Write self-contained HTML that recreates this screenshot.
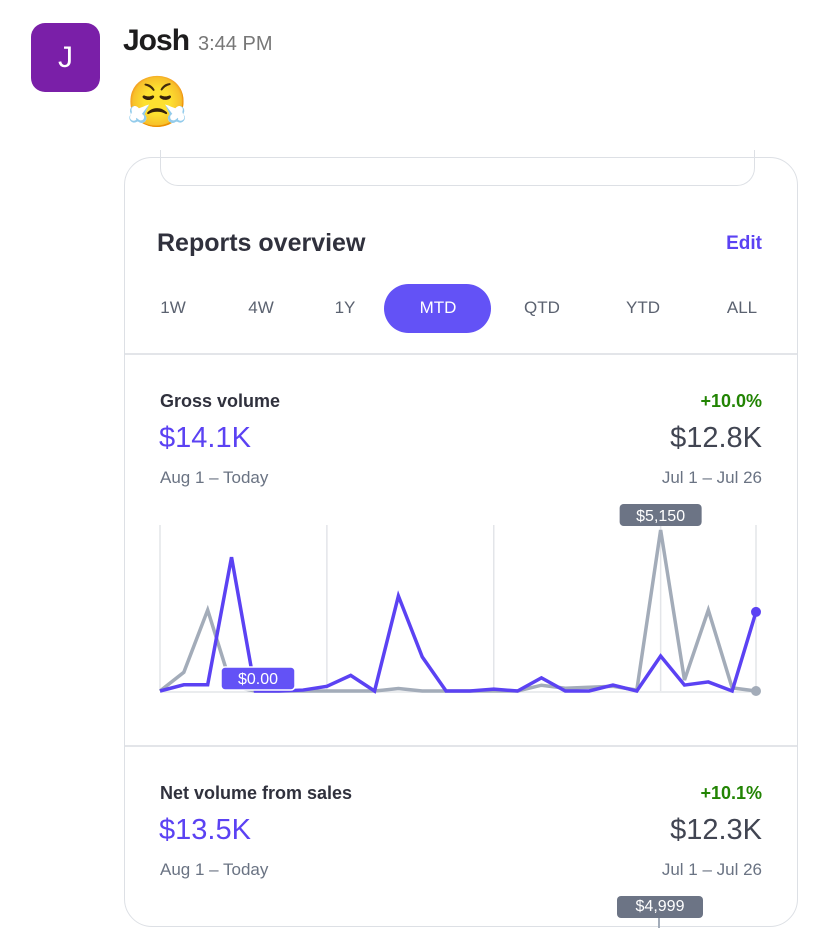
<!DOCTYPE html>
<html><head><meta charset="utf-8"><style>
body{margin:0;width:829px;height:948px;background:#fff;font-family:"Liberation Sans",sans-serif;position:relative;overflow:hidden}
.a{position:absolute;white-space:nowrap}
.tab{position:absolute;top:298px;font-size:17px;color:#5b6270;transform:translateX(-50%)}
</style></head><body>
<div class="a" style="left:31px;top:23px;width:69px;height:69px;border-radius:14px;background:#7a1fa8;color:#fff;font-size:30px;text-align:center;line-height:69px">J</div>
<div class="a" style="left:123px;top:24px;font-size:30px;font-weight:bold;color:#1d1c1d;letter-spacing:-1px">Josh</div>
<div class="a" style="left:198px;top:33px;font-size:20px;color:#777">3:44 PM</div>
<div class="a" style="left:126px;top:70px;font-size:50px;line-height:64px">😤</div>
<div class="a" style="left:124px;top:157px;width:672px;height:768px;border:1.5px solid #dde0e5;border-radius:28px"></div>
<div class="a" style="left:160px;top:150px;width:593px;height:35px;border:1.5px solid #dde0e5;border-top:none;border-radius:0 0 18px 18px"></div>
<div class="a" style="left:157px;top:229px;font-size:25px;font-weight:bold;color:#30313d">Reports overview</div>
<div class="a" style="right:67px;top:233px;font-size:19px;color:#5b42f3;font-weight:bold">Edit</div>
<div class="a" style="left:384px;top:284px;width:107px;height:49px;border-radius:25px;background:#6352f6"></div>
<div class="tab" style="left:173px">1W</div>
<div class="tab" style="left:261px">4W</div>
<div class="tab" style="left:345px">1Y</div>
<div class="tab" style="left:438px;color:#fff">MTD</div>
<div class="tab" style="left:542px">QTD</div>
<div class="tab" style="left:643px">YTD</div>
<div class="tab" style="left:742px">ALL</div>
<div class="a" style="left:125px;top:353px;width:672px;height:2px;background:#e3e5e9"></div>
<div class="a" style="left:160px;top:391px;font-size:18px;font-weight:bold;color:#30313d">Gross volume</div>
<div class="a" style="right:67px;top:391px;font-size:18px;font-weight:bold;color:#228403">+10.0%</div>
<div class="a" style="left:159px;top:422px;font-size:29px;color:#5b42f3">$14.1K</div>
<div class="a" style="right:67px;top:422px;font-size:29px;color:#414552">$12.8K</div>
<div class="a" style="left:160px;top:468px;font-size:17px;color:#6a7383">Aug 1 – Today</div>
<div class="a" style="right:67px;top:468px;font-size:17px;color:#6a7383">Jul 1 – Jul 26</div>
<svg class="a" style="left:0;top:0" width="829" height="948" id="ch"></svg>
<div class="a" style="left:125px;top:745px;width:672px;height:2px;background:#e3e5e9"></div>
<div class="a" style="left:160px;top:783px;font-size:18px;font-weight:bold;color:#30313d">Net volume from sales</div>
<div class="a" style="right:67px;top:783px;font-size:18px;font-weight:bold;color:#228403">+10.1%</div>
<div class="a" style="left:159px;top:814px;font-size:29px;color:#5b42f3">$13.5K</div>
<div class="a" style="right:67px;top:814px;font-size:29px;color:#414552">$12.3K</div>
<div class="a" style="left:160px;top:860px;font-size:17px;color:#6a7383">Aug 1 – Today</div>
<div class="a" style="right:67px;top:860px;font-size:17px;color:#6a7383">Jul 1 – Jul 26</div>
<div class="a" style="left:617px;top:896px;width:86px;height:22px;border-radius:4px;background:#6c7485;color:#fff;font-size:16px;text-align:center;line-height:22px">$4,999</div>
<div class="a" style="left:658px;top:918px;width:2px;height:10px;background:#a3acb9"></div>
<script>
const current=[0,200,200,4280,0,0,30,150,500,0,3040,1090,0,0,60,0,420,0,0,190,0,1120,190,290,0,2530];
const previous=[0,600,2590,150,0,0,0,0,0,0,80,0,0,0,0,0,185,90,120,150,30,5150,350,2590,100,0];
const gridIdx=[0,7,14,21,25];
const peakLabel="$5,150", zeroLabel="$0.00";
const NS="http://www.w3.org/2000/svg",svg=document.getElementById('ch');
const x0=160,x1=756,y0=691,yTop=530,maxV=5150;
const X=i=>x0+(x1-x0)*i/(previous.length-1);
const Y=v=>y0-(y0-yTop)*v/maxV;
function mk(t,a){const e=document.createElementNS(NS,t);for(const k in a)e.setAttribute(k,a[k]);svg.appendChild(e);return e;}
gridIdx.forEach(i=>{const l=mk('line',{x1:X(i),x2:X(i),y1:525,y2:y0,stroke:'#e3e5e9','stroke-width':1.5});

});
const b=mk('line',{x1:x0,x2:x1,y1:y0+1,y2:y0+1,stroke:'#e3e5e9','stroke-width':1.5});


const pg=mk('polyline',{points:previous.map((v,i)=>X(i)+','+Y(v)).join(' '),fill:'none',stroke:'#a3acb9','stroke-width':3.5,'stroke-linejoin':'miter'});


const pc=mk('polyline',{points:current.map((v,i)=>X(i)+','+Y(v)).join(' '),fill:'none',stroke:'#5b42f3','stroke-width':3.5});


const n=current.length-1;
const d1=mk('circle',{cx:X(n),cy:Y(previous[n]),r:5,fill:'#a3acb9'});


const d2=mk('circle',{cx:X(n),cy:Y(current[n]),r:5,fill:'#5b42f3'});


let pi=previous.indexOf(Math.max(...previous));
const t1=mk('rect',{x:X(pi)-41,y:Y(previous[pi])-26,width:82,height:22,rx:4,fill:'#6c7485'});


const tt1=mk('text',{x:X(pi),y:Y(previous[pi])-9,'text-anchor':'middle','font-size':16,fill:'#fff','font-family':'Liberation Sans'});
tt1.textContent=peakLabel;


const t2=mk('rect',{x:221,y:Y(0)-24,width:74,height:23,rx:4,fill:'#6352f6',stroke:'#fff','stroke-width':1.5});


const tt2=mk('text',{x:258,y:Y(0)-7,'text-anchor':'middle','font-size':16,fill:'#fff','font-family':'Liberation Sans'});
tt2.textContent=zeroLabel;


</script>
</body></html>
